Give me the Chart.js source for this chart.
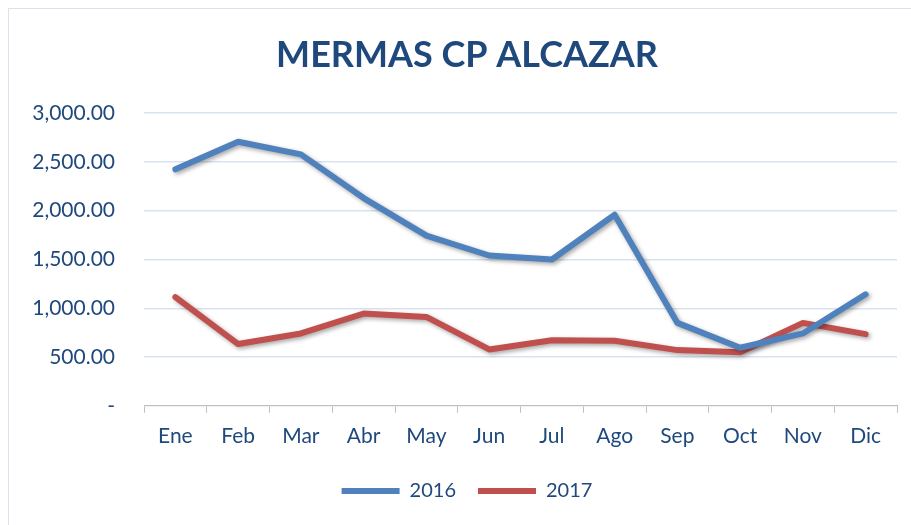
<!DOCTYPE html>
<html>
<head>
<meta charset="utf-8">
<script src="https://cdn.jsdelivr.net/npm/chart.js@4/dist/chart.umd.min.js"></script>
<style>
  html, body { margin: 0; padding: 0; background: #fff; overflow: hidden; }
  #wrap { position: absolute; left: 0; top: 0; width: 911px; height: 525px; }
  #frame { position: absolute; left: 8px; top: 8px; width: 920px; height: 530px; border: 1px solid #D9E3F0; box-sizing: border-box; pointer-events: none; }
</style>
</head>
<body>
<div id="wrap"><canvas id="c" width="911" height="525"></canvas></div>
<div id="frame"></div>
<script>
const categories = ['Ene','Feb','Mar','Abr','May','Jun','Jul','Ago','Sep','Oct','Nov','Dic'];
const values2016 = [2425, 2707, 2578, 2130, 1745, 1541, 1500, 1959, 850, 595, 742, 1143];
const values2017 = [1115, 633, 742, 946, 911, 578, 673, 666, 571, 548, 850, 735];
const yTickLabels = ['-', '500.00', '1,000.00', '1,500.00', '2,000.00', '2,500.00', '3,000.00'];

const TEXT = '#1F497D';
const FONT = 'Lato, "Open Sans", sans-serif';
const CENTER_SHIFT = 27;

const shadowPlugin = {
  id: 'shadow',
  beforeDatasetsDraw(chart) {
    const ctx = chart.ctx;
    ctx.save();
    ctx.shadowColor = 'rgba(0,0,0,0.35)';
    ctx.shadowBlur = 4;
    ctx.shadowOffsetX = 2;
    ctx.shadowOffsetY = 2;
  },
  afterDatasetsDraw(chart) {
    chart.ctx.restore();
  }
};

// centre title and legend on the whole frame rather than the padded box
const centerPlugin = {
  id: 'centerShift',
  afterLayout(chart) {
    if (chart.titleBlock) chart.titleBlock.left += CENTER_SHIFT;
    if (chart.legend) chart.legend.left += CENTER_SHIFT;
  }
};

new Chart(document.getElementById('c'), {
  type: 'line',
  data: {
    labels: categories,
    datasets: [
      { label: '2016', data: values2016, borderColor: '#4F81BD', backgroundColor: '#4F81BD',
        borderWidth: 6, pointRadius: 0, borderCapStyle: 'round', borderJoinStyle: 'round', tension: 0 },
      { label: '2017', data: values2017, borderColor: '#C0504D', backgroundColor: '#C0504D',
        borderWidth: 6, pointRadius: 0, borderCapStyle: 'round', borderJoinStyle: 'round', tension: 0 }
    ]
  },
  options: {
    responsive: false,
    animation: false,
    layout: { padding: { left: 10, right: 14, top: 0, bottom: 14 } },
    plugins: {
      title: {
        display: true, text: 'MERMAS CP ALCAZAR', color: TEXT,
        font: { family: FONT, size: 36, weight: 'bold' },
        padding: { top: 34, bottom: 36 }
      },
      legend: {
        position: 'bottom',
        labels: {
          color: TEXT, font: { family: FONT, size: 20 },
          usePointStyle: true, pointStyle: 'line', pointStyleWidth: 58, boxHeight: 6,
          padding: 22
        }
      },
      tooltip: { enabled: false }
    },
    scales: {
      x: {
        offset: true,
        grid: { offset: true, drawOnChartArea: false, color: '#BFBFBF', tickLength: 7, tickColor: '#BFBFBF' },
        border: { color: '#BFBFBF' },
        ticks: { color: TEXT, font: { family: FONT, size: 21 }, padding: 10.5 }
      },
      y: {
        min: 0, max: 3000,
        afterFit(scale) { scale.width = 134; },
        grid: { color: '#D9E3F0', lineWidth: 1.5, drawTicks: false },
        border: { display: false },
        ticks: {
          stepSize: 500, color: TEXT, font: { family: FONT, size: 21 }, padding: 29,
          callback(v) { return yTickLabels[Math.round(v / 500)]; }
        }
      }
    }
  },
  plugins: [shadowPlugin, centerPlugin]
});
</script>
</body>
</html>
